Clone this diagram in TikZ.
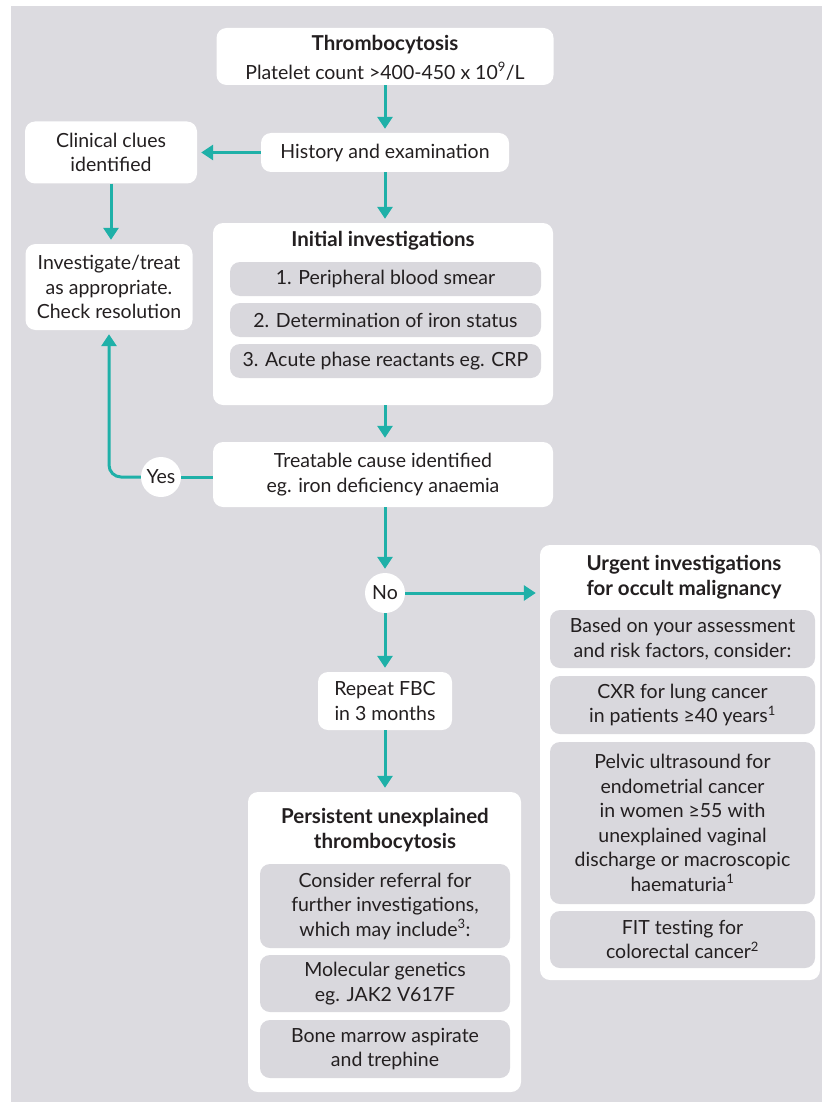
\documentclass[tikz,border=0pt]{standalone}
\usepackage{fontspec}
\setmainfont{Lato}
\usetikzlibrary{arrows.meta,calc}
\definecolor{bgc}{HTML}{DCDBE0}
\definecolor{subc}{HTML}{D9D8DD}
\definecolor{arrowc}{HTML}{1FB0A8}
\definecolor{txtc}{HTML}{231F20}
\newcommand{\sups}[1]{\textsuperscript{\fontsize{13}{13}\selectfont #1}}
\begin{document}
\begin{tikzpicture}[x=1pt,y=-1pt,
  font=\fontsize{19.5}{24.5}\selectfont,
  box/.style={fill=white, rounded corners=10pt, inner sep=0pt, align=center, text=txtc},
  subbox/.style={fill=subc, rounded corners=10pt, inner sep=0pt, align=center, text=txtc},
  ttl/.style={inner sep=0pt, align=center, text=txtc, font=\fontsize{20.5}{25}\selectfont\bfseries},
  arr/.style={draw=arrowc, line width=3pt, -{Triangle[length=12pt,width=15pt]}, shorten >=4pt},
  ln/.style={draw=arrowc, line width=3pt},
  circ/.style={circle, fill=white, minimum size=40pt, inner sep=0pt, text=txtc}]
\useasboundingbox (0,0) rectangle (822,1102);
\fill[white] (0,0) rectangle (822,1102);
\fill[bgc] (11,6) rectangle (822,1102);

% top
\node[box, minimum width=337pt, minimum height=57pt] (thr) at (385,56.5) {};
\node[ttl] (thrT) at (385,45) {Thrombocytosis};
\node[inner sep=0pt, text=txtc] (thrS) at (385,71) {Platelet count >400-450 x 10\sups{9}/L};

\node[box, minimum width=248pt, minimum height=39pt] (hist) at (385,152.5) {History and examination};
\node[box, minimum width=172pt, minimum height=62pt] (clues) at (111,152.5) {Clinical clues\\identified};
\node[box, minimum width=167pt, minimum height=86pt] (inv) at (109,287) {Investigate/treat\\as appropriate.\\Check resolution};

% initial investigations
\node[box, minimum width=340pt, minimum height=182pt] (init) at (383,314) {};
\node[ttl] (initT) at (383,241) {Initial investigations};
\node[subbox, minimum width=311pt, minimum height=34pt] (i1) at (385.5,279) {1. Peripheral blood smear};
\node[subbox, minimum width=311pt, minimum height=34pt] (i2) at (385.5,320) {2. Determination of iron status};
\node[subbox, minimum width=311pt, minimum height=34pt] (i3) at (385.5,361) {3. Acute phase reactants eg. CRP};

\node[box, minimum width=340pt, minimum height=65pt] (treat) at (383,474.5) {Treatable cause identified\\eg. iron deficiency anaemia};
\node[circ] (yes) at (161,477) {Yes};
\node[circ] (no) at (385,593) {No};

\node[box, minimum width=134pt, minimum height=58pt] (rep) at (385,701) {Repeat FBC\\in 3 months};

% persistent
\node[box, minimum width=273pt, minimum height=300pt] (pers) at (384.5,942) {};
\node[ttl] (persT) at (385,830) {Persistent unexplained\\thrombocytosis};
\node[subbox, minimum width=250pt, minimum height=84pt] (p1) at (385,906) {Consider referral for\\further investigations,\\which may include\sups{3}:};
\node[subbox, minimum width=250pt, minimum height=57pt] (p2) at (385,983.5) {Molecular genetics\\eg. JAK2 V617F};
\node[subbox, minimum width=250pt, minimum height=58pt] (p3) at (385,1049) {Bone marrow aspirate\\and trephine};

% urgent
\node[box, minimum width=280pt, minimum height=435pt] (urg) at (680,762.5) {};
\node[ttl] (urgT) at (684,577.5) {Urgent investigations\\for occult malignancy};
\node[subbox, minimum width=265pt, minimum height=58pt] (u1) at (682.5,639) {Based on your assessment\\and risk factors, consider:};
\node[subbox, minimum width=265pt, minimum height=58pt] (u2) at (682.5,705) {CXR for lung cancer\\in patients ≥40 years\sups{1}};
\node[subbox, minimum width=265pt, minimum height=162pt] (u3) at (682.5,823) {Pelvic ultrasound for\\endometrial cancer\\in women ≥55 with\\unexplained vaginal\\discharge or macroscopic\\haematuria\sups{1}};
\node[subbox, minimum width=265pt, minimum height=57pt] (u4) at (682.5,939.5) {FIT testing for\\colorectal cancer\sups{2}};

% connectors
\draw[arr] (thr.south) -- (thr.south |- hist.north);
\draw[arr] (hist.west) -- (hist.west -| clues.east);
\draw[arr] (clues.south) -- (clues.south |- inv.north);
\draw[arr] (hist.south) -- (hist.south |- init.north);
\draw[arr] (init.south -| hist.south) -- (hist.south |- treat.north);
\draw[ln] (yes.east) -- (yes.east -| treat.west);
\draw[arr, rounded corners=12pt] (yes.west) -| (inv.south);
\draw[arr] (treat.south -| no.north) -- (no.north);
\draw[arr] (no.east) -- (no.east -| urg.west);
\draw[arr] (no.south) -- (rep.north);
\draw[arr] (rep.south) -- (pers.north -| rep.south);
\end{tikzpicture}
\end{document}
